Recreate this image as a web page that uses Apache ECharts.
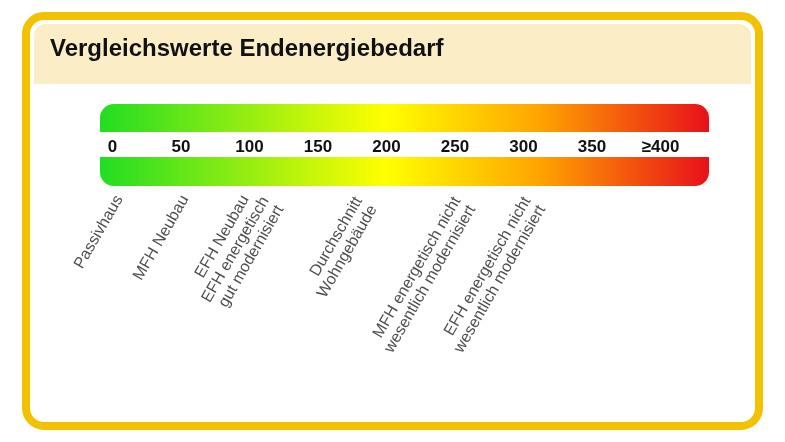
<!DOCTYPE html>
<html><head><meta charset="utf-8">
<script src="https://cdn.jsdelivr.net/npm/echarts@6/dist/echarts.min.js"></script>
<style>html,body{margin:0;padding:0;background:#fff}#c{width:785px;height:442px}</style>
</head><body><div id="c"></div>
<script>
const tickValues = [0, 50, 100, 150, 200, 250, 300, 350, 400];
const tickLabels = ['0', '50', '100', '150', '200', '250', '300', '350', '≥400'];
const categories = ['Passivhaus', 'MFH Neubau', 'EFH Neubau', 'EFH energetisch\ngut modernisiert', 'Durchschnitt\nWohngebäude', 'MFH energetisch nicht\nwesentlich modernisiert', 'EFH energetisch nicht\nwesentlich modernisiert'];
const categoryValues = [5, 53, 97, 117, 185, 257, 308];
const labelDepth = [-0.13, -0.13, -0.13, -0.2, -0.2, -0.2, -0.2];

const grad = new echarts.graphic.LinearGradient(0, 0, 1, 0, [
  {offset: 0, color: '#22dd22'}, {offset: 0.25, color: '#99ee11'},
  {offset: 0.47, color: '#ffff00'}, {offset: 0.72, color: '#ffa500'},
  {offset: 1, color: '#e8101a'}]);
const chart = echarts.init(document.getElementById('c'));
chart.setOption({
  animation: false,
  graphic: [
    {type: 'rect', shape: {x: 26, y: 16, width: 733, height: 410, r: 18}, style: {fill: '#fff', stroke: '#f2c200', lineWidth: 8}, z: -10},
    {type: 'rect', shape: {x: 34, y: 24, width: 717, height: 60, r: [12, 12, 0, 0]}, style: {fill: '#fbedc6'}, z: -9},
    {type: 'text', left: 50, top: 37, style: {text: 'Vergleichswerte Endenergiebedarf', font: 'bold 24px "Liberation Sans", Arial, sans-serif', fill: '#111'}},
    {type: 'rect', shape: {x: 100, y: 104, width: 609, height: 28, r: [14, 14, 0, 0]}, style: {fill: grad}},
    {type: 'rect', shape: {x: 100, y: 157, width: 609, height: 29, r: [0, 0, 14, 14]}, style: {fill: grad}}
  ],
  grid: {left: 112.5, right: 124.5, top: 104, bottom: 256},
  xAxis: {type: 'value', min: 0, max: 400, interval: 50, position: 'top', offset: -60,
    axisLine: {show: false}, axisTick: {show: false}, splitLine: {show: false},
    axisLabel: {color: '#111', fontWeight: 'bold', fontSize: 17, fontFamily: '"Liberation Sans", Arial, sans-serif',
      formatter: v => tickLabels[tickValues.indexOf(v)] ?? ''}},
  yAxis: {type: 'value', min: 0, max: 1, show: false},
  series: [{type: 'scatter', symbolSize: 0, clip: false,
    data: categoryValues.map((v, i) => ({value: [v, labelDepth[i]], name: categories[i]})),
    label: {show: true, position: 'inside', rotate: 60, align: 'right', verticalAlign: 'middle',
      formatter: p => p.name, color: '#222', fontSize: 16, lineHeight: 17, fontFamily: '"Liberation Sans", Arial, sans-serif'}}]
});
</script></body></html>
